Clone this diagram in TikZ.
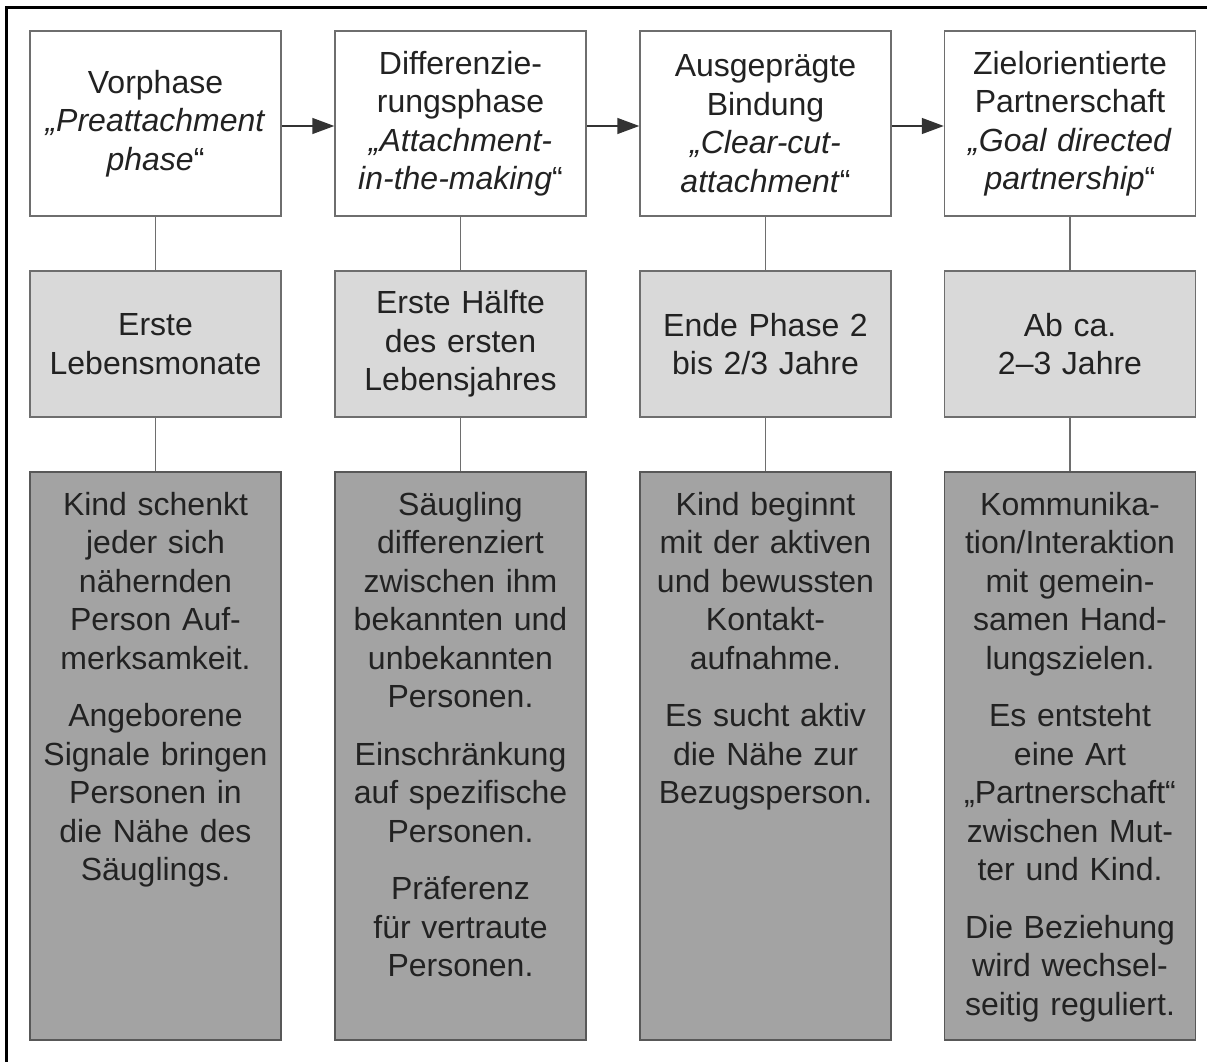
\documentclass[tikz,border=0pt]{standalone}
\usepackage{fontspec}
\setmainfont{Liberation Sans}
\usetikzlibrary{arrows.meta}
\definecolor{lightfill}{HTML}{D9D9D9}
\definecolor{darkfill}{HTML}{A3A3A3}
\definecolor{boxline}{HTML}{6E6E6E}
\definecolor{txt}{HTML}{222222}
\begin{document}
\begin{tikzpicture}[x=1pt,y=-1pt,
  every node/.style={font=\fontsize{32}{38.5}\selectfont, text=txt},
  phasebox/.style={draw=boxline, line width=1.5pt, fill=white, minimum width=251pt, minimum height=185pt, inner sep=0pt, align=center, text width=245pt},
  agebox/.style={draw=boxline, line width=1.5pt, fill=lightfill, minimum width=251pt, minimum height=146pt, inner sep=0pt, align=center, text width=245pt},
  descbox/.style={draw=boxline!80!black, line width=1.5pt, fill=darkfill, minimum width=251pt, minimum height=568pt, inner sep=0pt},
  desctext/.style={anchor=north, inner sep=0pt, align=center, text width=245pt},
  link/.style={draw=boxline, line width=1.5pt},
  flow/.style={draw=black!80, line width=1.5pt, -{Triangle[length=22pt,width=16pt]}}
]
\clip (0,0) rectangle (1207,1062);
\fill[white] (0,0) rectangle (1207,1062);
\draw[line width=3pt] (6.5,7.5) rectangle (1230,1090);

% top phase boxes
\node[phasebox] (b1) at (155.5,123.5) {Vorphase\\\textit{„Preattachment}\\\textit{phase}“};
\node[phasebox] (b2) at (460.5,123.5) {Differenzie-\\rungsphase\\\textit{„Attachment-}\\\textit{in-the-making}“};
\node[phasebox] (b3) at (765.5,123.5) {Ausgeprägte\\Bindung\\\textit{„Clear-cut-}\\\textit{attachment}“};
\node[phasebox] (b4) at (1070,123.5) {Zielorientierte\\Partnerschaft\\\textit{„Goal directed}\\\textit{partnership}“};

% age boxes
\node[agebox] (g1) at (155.5,344) {Erste\\Lebensmonate};
\node[agebox] (g2) at (460.5,344) {Erste Hälfte\\des ersten\\Lebensjahres};
\node[agebox] (g3) at (765.5,344) {Ende Phase 2\\bis 2/3 Jahre};
\node[agebox] (g4) at (1070,344) {Ab ca.\\2–3 Jahre};

% description boxes
\node[descbox] (d1) at (155.5,756) {};
\node[descbox] (d2) at (460.5,756) {};
\node[descbox] (d3) at (765.5,756) {};
\node[descbox] (d4) at (1070,756) {};

\node[desctext] (t1) at (155.5,488) {\strut Kind schenkt\\jeder sich\\nähernden\\Person Auf-\\merksamkeit.\\[19pt]Angeborene\\Signale bringen\\Personen in\\die Nähe des\\Säuglings.};
\node[desctext] (t2) at (460.5,488) {\strut Säugling\\differenziert\\zwischen ihm\\bekannten und\\unbekannten\\Personen.\\[19pt]Einschränkung\\auf spezifische\\Personen.\\[19pt]Präferenz\\für vertraute\\Personen.};
\node[desctext] (t3) at (765.5,488) {\strut Kind beginnt\\mit der aktiven\\und bewussten\\Kontakt-\\aufnahme.\\[19pt]Es sucht aktiv\\die Nähe zur\\Bezugsperson.};
\node[desctext] (t4) at (1070,488) {\strut Kommunika-\\tion/Interaktion\\mit gemein-\\samen Hand-\\lungszielen.\\[19pt]Es entsteht\\eine Art\\„Partnerschaft“\\zwischen Mut-\\ter und Kind.\\[19pt]Die Beziehung\\wird wechsel-\\seitig reguliert.};

% vertical connectors
\foreach \i in {1,2,3,4} {
  \draw[link] (b\i.south) -- (g\i.north);
  \draw[link] (g\i.south) -- (d\i.north);
}

% arrows
\draw[flow] ([yshift=-2.5pt]b1.east) -- ([yshift=-2.5pt]b2.west);
\draw[flow] ([yshift=-2.5pt]b2.east) -- ([yshift=-2.5pt]b3.west);
\draw[flow] ([yshift=-2.5pt]b3.east) -- ([yshift=-2.5pt]b4.west);
\end{tikzpicture}
\end{document}
